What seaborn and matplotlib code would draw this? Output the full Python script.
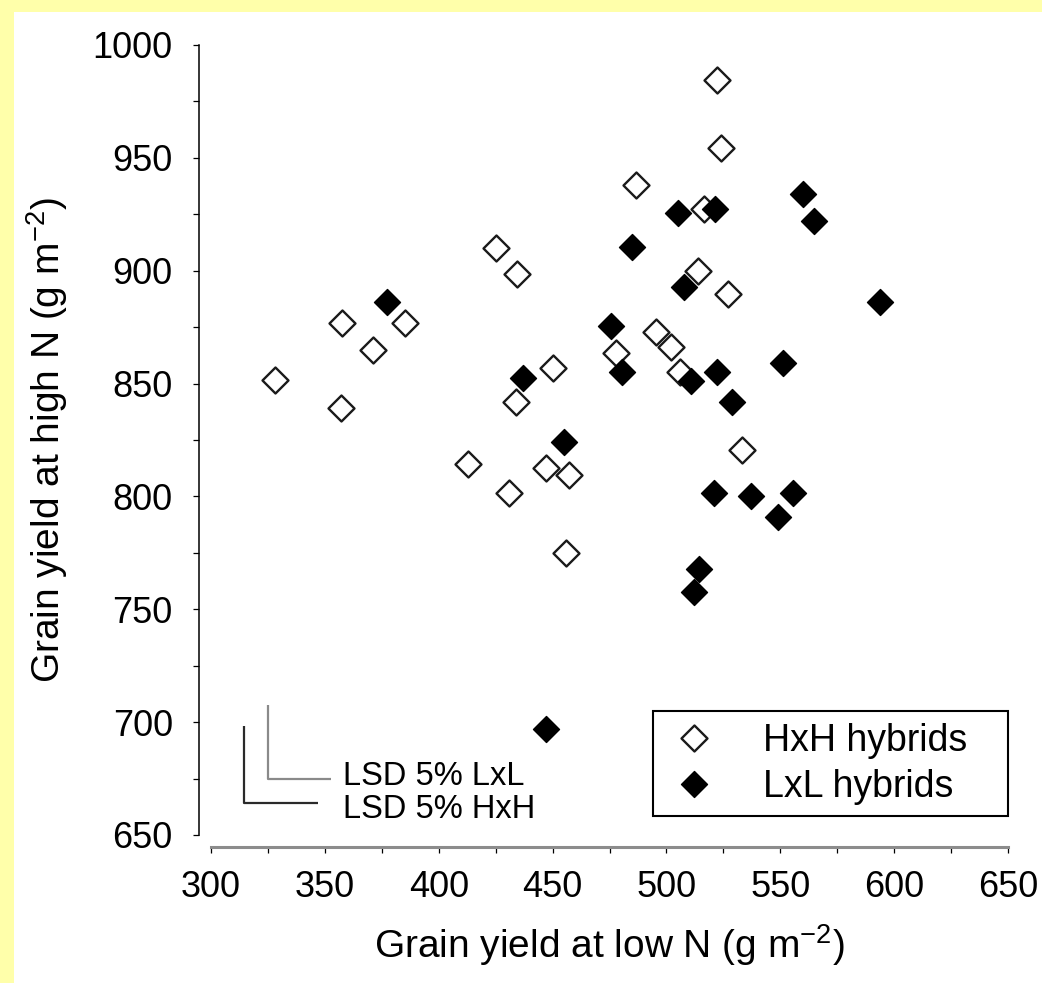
import matplotlib
matplotlib.use('Agg')
import matplotlib.pyplot as plt
import seaborn as sns
from matplotlib.patches import Rectangle
from matplotlib.ticker import MultipleLocator

# grain yield (g m-2): low N vs high N
hxh_low = [328, 357.5, 357, 371, 385, 413, 425, 434.5, 431, 434, 450, 447, 457, 456, 486.5,
           478, 495.5, 502, 506, 514, 522, 524, 516.5, 527, 533]
hxh_high = [851.5, 877, 839, 865, 877, 814.5, 910, 898.5, 801.5, 842, 857, 812.5, 809.5, 775, 938,
            863.5, 873, 866, 855, 900, 984.5, 954.5, 927.5, 889.5, 820.5]
lxl_low = [377.5, 437, 455, 447, 475.5, 480.5, 485, 505, 507.5, 521.5, 511, 522, 529, 521, 537,
           549, 551, 555.5, 560, 565, 594, 514.5, 512]
lxl_high = [886, 852.5, 824, 697, 875.5, 855, 910.5, 925.5, 893, 927.5, 851, 855, 842, 801.5, 800,
            791, 859, 801.5, 934, 922, 886, 768, 757.5]

# LSD 5% bars: corner (x, y) and lengths (dx, dy), plus where the label sits
lsd_labels = ['LSD 5% LxL', 'LSD 5% HxH']
lsd_corner = [(325.0, 674.7), (314.6, 664.3)]
lsd_size = [(27.8, 33.0), (32.5, 34.1)]
lsd_text_y = [675.7, 661.3]
lsd_colors = ['#8a8a8a', '#2a2a2a']

sns.set_style('ticks')
plt.rcParams['font.family'] = ['Liberation Sans', 'DejaVu Sans']
plt.rcParams['mathtext.fontset'] = 'custom'
plt.rcParams['mathtext.rm'] = 'Liberation Sans'
plt.rcParams['mathtext.default'] = 'regular'
plt.rcParams['text.color'] = 'black'
plt.rcParams['axes.labelcolor'] = 'black'
plt.rcParams['xtick.color'] = 'black'
plt.rcParams['ytick.color'] = 'black'

fig = plt.figure(figsize=(10.42, 9.83), dpi=100, facecolor='#FFFFAA')
fig.add_artist(Rectangle((14 / 1042, 0), 1, 971 / 983, transform=fig.transFigure,
                         facecolor='white', edgecolor='none', zorder=-1))
ax = fig.add_axes([211 / 1042, 148 / 983, 797 / 1042, 790 / 983])
ax.patch.set_alpha(0)

sns.scatterplot(x=hxh_low, y=hxh_high, marker='D', s=175, color='white', edgecolor='#1a1a1a',
                linewidth=1.7, label='HxH hybrids', ax=ax, zorder=3)
sns.scatterplot(x=lxl_low, y=lxl_high, marker='D', s=175, color='black', edgecolor='black',
                linewidth=1.0, label='LxL hybrids', ax=ax, zorder=4)

for lab, (cx, cy), (dx, dy), ty, col in zip(lsd_labels, lsd_corner, lsd_size, lsd_text_y, lsd_colors):
    ax.plot([cx, cx, cx + dx], [cy + dy, cy, cy], color=col, lw=1.6, solid_capstyle='butt')
    ax.text(358, ty, lab, fontsize=23.5, va='center', ha='left', color='black')

ax.set_xlim(300, 650)
ax.set_ylim(650, 1000)
ax.xaxis.set_major_locator(MultipleLocator(50))
ax.xaxis.set_minor_locator(MultipleLocator(25))
ax.yaxis.set_major_locator(MultipleLocator(50))
ax.yaxis.set_minor_locator(MultipleLocator(25))

sns.despine(ax=ax)
ax.spines['left'].set_position(('outward', 9))
ax.spines['bottom'].set_position(('outward', 8.6))
ax.spines['left'].set_linewidth(1.1)
ax.spines['left'].set_color('black')
ax.spines['bottom'].set_linewidth(2.2)
ax.spines['bottom'].set_color('#8c8c8c')
ax.tick_params(which='both', direction='out', length=4.5, width=0.9, color='black')
ax.tick_params(axis='x', labelsize=26, pad=12)
ax.tick_params(axis='y', labelsize=26, pad=14)

ax.set_xlabel(r'Grain yield at low N (g m$^{-2}$)', fontsize=28)
ax.set_ylabel(r'Grain yield at high N (g m$^{-2}$)', fontsize=28)
ax.xaxis.set_label_coords(0.5, -0.139)
ax.yaxis.set_label_coords(-0.206, 0.5)
ax.xaxis.label.set_va('center')
ax.yaxis.label.set_va('center')

leg = ax.legend(loc='lower left', bbox_to_anchor=(0.5546, 0.024, 0.4454, 0.15), mode='expand',
                frameon=True, fancybox=False, edgecolor='black', framealpha=1, borderpad=0.3,
                handlelength=1.6, handletextpad=1.04, labelspacing=0.27, fontsize=27,
                borderaxespad=0, scatteryoffsets=[0.5])
leg.get_frame().set_linewidth(1.5)

fig.savefig('out.png', dpi=100, facecolor=fig.get_facecolor())
